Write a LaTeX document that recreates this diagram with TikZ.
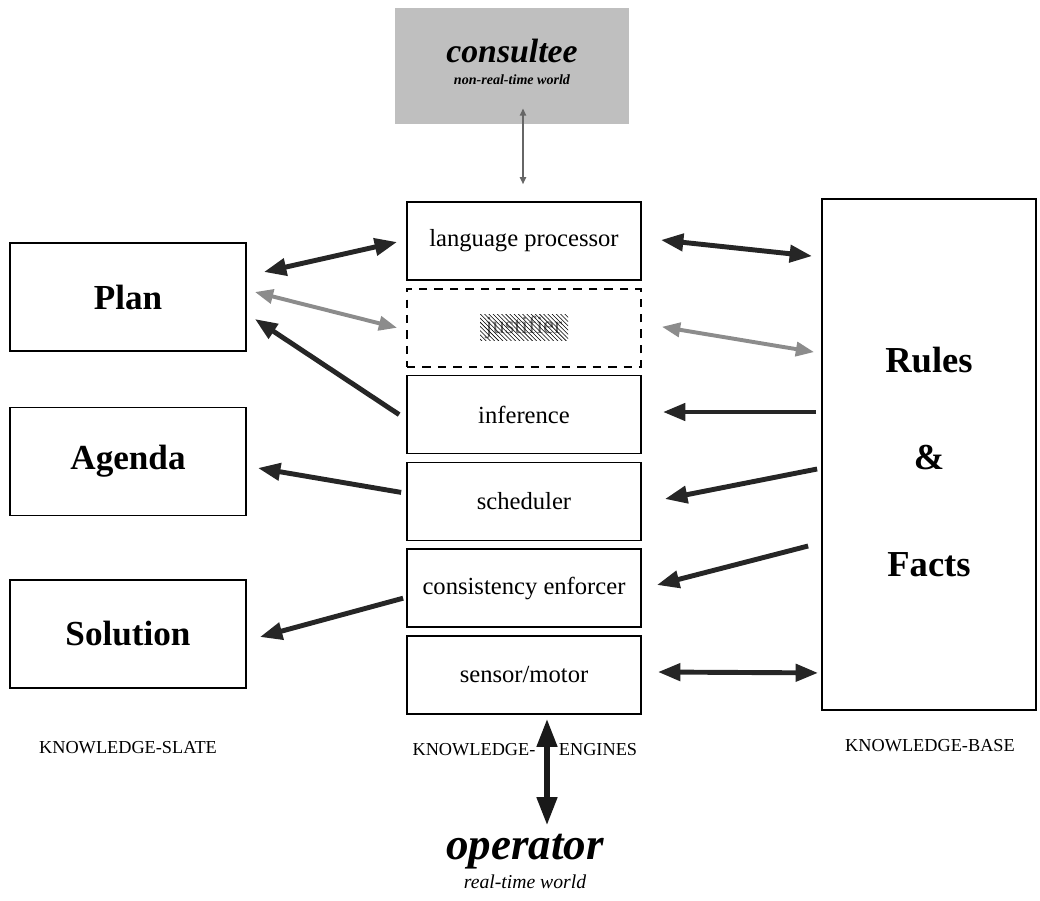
\documentclass[tikz,border=0pt]{standalone}
\usepackage{fontspec}
\setmainfont{Liberation Serif}
\usetikzlibrary{arrows.meta,calc,patterns}
\tikzset{
	engine/.style   = {draw, line width=1.2pt, rectangle, minimum width=5.85cm,
		minimum height=1.95cm, font=\fontsize{17.5}{20}\selectfont},
	slate/.style    = {draw, line width=1.2pt, rectangle, minimum width=5.9cm,
		minimum height=2.7cm, font=\fontsize{25}{30}\selectfont\bfseries},
	kbase/.style    = {draw, line width=1.2pt, rectangle, minimum width=5.35cm,
		minimum height=12.775cm, align=center, font=\fontsize{26}{31}\selectfont\bfseries},
	world/.style    = {align=center, inner sep=0pt, font=\bfseries\itshape},
	tag/.style      = {font=\fontsize{13}{15}\selectfont}, % column names
	twoway/.style   = {<->, line width=3.5pt, draw=black!85},
	oneway/.style   = {->, line width=3.5pt, draw=black!85},
	faint/.style    = {<->, >={Triangle[length=13pt,width=10pt]}, line width=2.8pt, draw=black!45},
	feed/.style     = {<->, >={Triangle[length=5pt,width=4.5pt]}, line width=1pt, draw=black!60},
	lift/.style     = {<->, >={Triangle[length=20pt,width=14pt]}, line width=4pt, draw=black!90}
}

\begin{document}
\begin{tikzpicture}[auto, thick, x=0.025cm, y=-0.025cm, >={Triangle[length=16pt,width=12pt]}]
	\useasboundingbox (0,0) rectangle (1040,901);
	\draw
	node at (512,66) [world, fill=black!25, minimum width=5.825cm, minimum height=2.9cm] (cons)
		{\fontsize{24}{28}\selectfont consultee\\[3pt]\fontsize{10}{12}\selectfont non-real-time world\rule[-6pt]{0pt}{6pt}}
	node at (524,241) [engine] (lp) {language processor}
	node at (524,327.8) [engine, dash pattern=on 6pt off 5pt, text=black!55] (just) {justifier}
	node at (524,414.6) [engine] (inf) {inference}
	node at (524,501.4) [engine] (sched) {scheduler}
	node at (524,588.2) [engine] (enf) {consistency enforcer}
	node at (524,675) [engine] (sm) {sensor/motor}
	node at (128,297) [slate] (plan) {Plan}
	node at (128,461.5) [slate] (agenda) {Agenda}
	node at (128,634) [slate] (sol) {Solution}
	node at (929,454.5) [kbase] (rb) {\rule{0pt}{29pt}Rules\\[38pt]\&\\[45pt]Facts}
	node at (525,861) [world] (op)
		{\fontsize{32}{36}\selectfont operator\\[3pt]\fontsize{14}{16}\selectfont\mdseries real-time world}
	node at (128,748) [tag] (slatename) {KNOWLEDGE-SLATE}
	node at (474,750) [tag] (engname1) {KNOWLEDGE-}
	node at (598,750) [tag] (engname2) {ENGINES}
	node at (930,746) [tag] (basename) {KNOWLEDGE-BASE};
	\fill[pattern=north west lines] ($(just)+(-44,-13)$) rectangle ($(just)+(44,13)$);

	\draw[feed]($(cons.south)+(11,-16)$)--($(lp.north)+(-1,-17)$);
	\draw[twoway]($(plan.east)+(17,-25)$)--($(lp.west)+(-9,1)$);
	\draw[faint]($(plan.east)+(8,-5)$)--($(just.west)+(-9,0)$);
	\draw[oneway]($(inf.west)+(-7,0)$)--($(plan.east)+(8,22)$);
	\draw[oneway]($(sched.west)+(-5,-9)$)--($(agenda.east)+(11,6.5)$);
	\draw[oneway]($(enf.west)+(-3,10)$)--($(sol.east)+(13,3)$);
	\draw[twoway]($(lp.east)+(19,-1)$)--($(rb.north west)+(-9,58)$);
	\draw[faint]($(just.east)+(20,-1)$)--($(rb.north west)+(-7,154)$);
	\draw[oneway]($(rb.west)+(-5,-42.5)$)--($(inf.east)+(21,-2.6)$);
	\draw[oneway]($(rb.west)+(-4,14.5)$)--($(sched.east)+(23,-2.4)$);
	\draw[oneway]($(rb.west)+(-13,91.5)$)--($(enf.east)+(15,-3.2)$);
	\draw[twoway]($(sm.east)+(16,-3)$)--($(rb.south west)+(-3,-38)$);
	\draw[lift]($(sm.south)+(23,4)$)--($(op.north)+(22,-8)$);
\end{tikzpicture}
\end{document}
